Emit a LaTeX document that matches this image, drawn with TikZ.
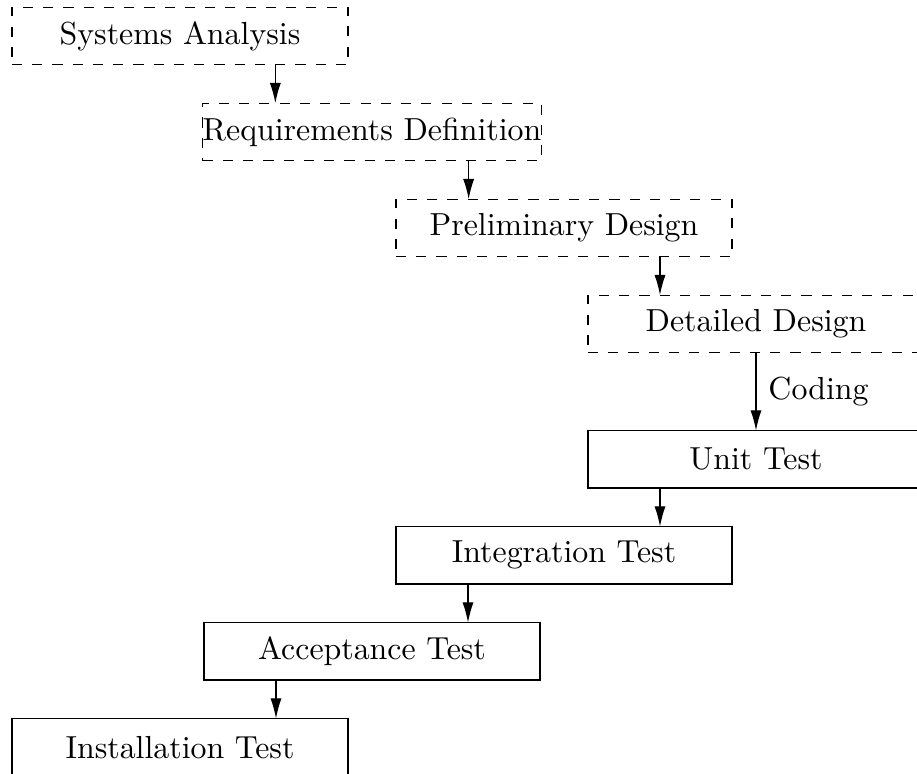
\documentclass[tikz,border=0pt]{standalone}
\usepackage{graphicx}
\usetikzlibrary{arrows.meta,calc}
% labels are set at 10pt and shrunk a little so the longest fits the box width
\newcommand{\lbl}[1]{\scalebox{0.945}{#1}}
\begin{document}
\begin{tikzpicture}[
  every node/.style={font=\normalsize},
  phase/.style={draw, line width=0.4pt, minimum width=3.5cm, minimum height=0.6cm,
                inner sep=0pt, outer sep=0pt},
  planbox/.style={phase, dashed},
  testbox/.style={phase},
  flow/.style={-{Latex[length=6pt,width=3.3pt]}, line width=0.4pt}
]
\useasboundingbox (0,0) rectangle (9.552,-8.0625);
\clip (0,0) rectangle (9.552,-8.0625);

% design phases (dashed)
\node[planbox] (sa) at (1.875,-0.375) {\lbl{Systems Analysis}};
\node[planbox] (rd) at (3.875,-1.375) {\lbl{Requirements Definition}};
\node[planbox] (pd) at (5.875,-2.375) {\lbl{Preliminary Design}};
\node[planbox] (dd) at (7.875,-3.375) {\lbl{Detailed Design}};

% test phases (solid)
\node[testbox] (ut) at (7.875,-4.785) {\lbl{Unit Test}};
\node[testbox] (it) at (5.875,-5.785) {\lbl{Integration Test}};
\node[testbox] (at) at (3.875,-6.785) {\lbl{Acceptance Test}};
\node[testbox] (in) at (1.875,-7.785) {\lbl{Installation Test}};

% arrows drop at the midpoint between neighbouring boxes
\coordinate (m1) at ($(sa.south east)!.5!(rd.north west)$);
\coordinate (m2) at ($(rd.south east)!.5!(pd.north west)$);
\coordinate (m3) at ($(pd.south east)!.5!(dd.north west)$);
\coordinate (m4) at ($(ut.south west)!.5!(it.north east)$);
\coordinate (m5) at ($(it.south west)!.5!(at.north east)$);
\coordinate (m6) at ($(at.south west)!.5!(in.north east)$);

\draw[flow] (m1 |- sa.south) -- (m1 |- rd.north);
\draw[flow] (m2 |- rd.south) -- (m2 |- pd.north);
\draw[flow] (m3 |- pd.south) -- (m3 |- dd.north);
\draw[flow] (dd.south) -- node[right, inner sep=3.5pt] {\lbl{Coding}} (ut.north);
\draw[flow] (m4 |- ut.south) -- (m4 |- it.north);
\draw[flow] (m5 |- it.south) -- (m5 |- at.north);
\draw[flow] (m6 |- at.south) -- (m6 |- in.north);
\end{tikzpicture}
\end{document}
